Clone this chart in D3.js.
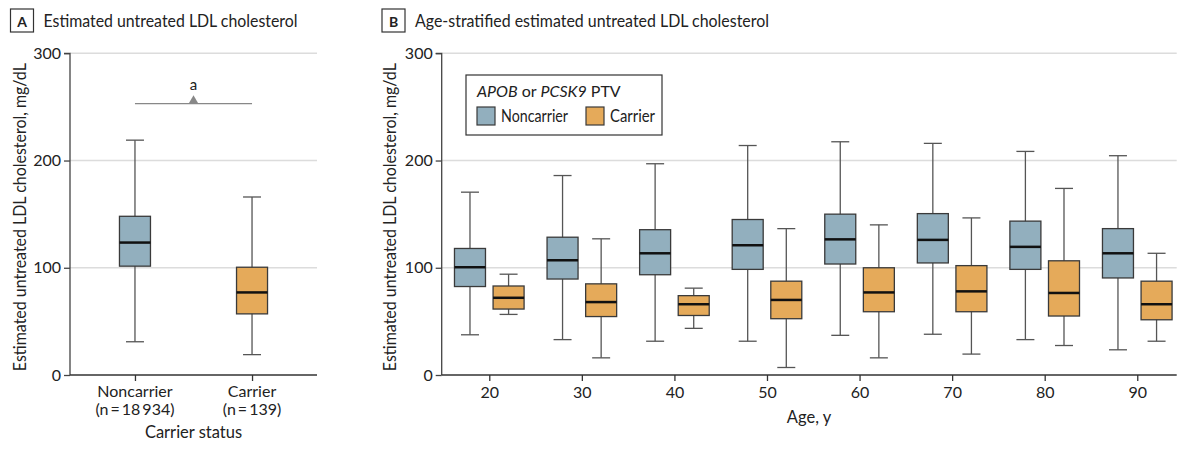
<!DOCTYPE html>
<html>
<head>
<meta charset="utf-8">
<script src="https://cdn.jsdelivr.net/npm/d3@7"></script>
<style>
  body { margin: 0; background: #fff; }
  text { font-family: Lato, "Open Sans", sans-serif; fill: #222; }
</style>
</head>
<body>
<script>
// ---- data ----
const groups = ["Noncarrier", "Carrier"];
const groupLabels = ["(n\u2009=\u200918\u2009934)", "(n\u2009=\u2009139)"];
// [low whisker, q1, median, q3, high whisker]
const overallNoncarrier = [31, 101.5, 123.5, 148, 219];
const overallCarrier = [19, 57, 77, 100.5, 166];

const ages = [20, 30, 40, 50, 60, 70, 80, 90];
const noncarrierByAge = [
  [37.5, 82.5, 100.5, 118, 170.5],
  [33, 89.5, 107, 128.5, 186],
  [31.5, 93.5, 113.5, 135.5, 197],
  [31.5, 98.5, 121, 145, 214],
  [37, 103.5, 126.5, 150, 217.5],
  [38, 104.5, 126, 150.5, 216],
  [33, 98.5, 119.5, 143.5, 208.5],
  [23.5, 90.5, 113.5, 136.5, 204.5]
];
const carrierByAge = [
  [56.5, 61.5, 72, 83, 94],
  [16, 54.5, 68, 85, 127],
  [43.5, 55.5, 66, 74, 81],
  [7, 52.5, 70, 87.5, 136.5],
  [16, 59, 77, 100, 140],
  [19.5, 59, 78, 102, 146.5],
  [27.5, 55, 76.5, 106.5, 174],
  [31.5, 51.5, 66, 87.5, 113.5]
];
const yTicks = [0, 100, 200, 300];
const colors = { Noncarrier: "#92afbe", Carrier: "#e5aa5a" };

const svg = d3.select("body").append("svg")
  .attr("width", 1200)
  .attr("height", 450);

const y = d3.scaleLinear().domain([0, 300]).range([375, 53.3]);
const boxW = 31;

function drawBox(g, cx, v, fill) {
  g.append("line")
    .attr("x1", cx).attr("x2", cx)
    .attr("y1", y(v[0])).attr("y2", y(v[4]))
    .attr("stroke", "#555").attr("stroke-width", 1.3);
  [v[0], v[4]].forEach(w => {
    g.append("line")
      .attr("x1", cx - 9).attr("x2", cx + 9)
      .attr("y1", y(w)).attr("y2", y(w))
      .attr("stroke", "#555").attr("stroke-width", 1.3);
  });
  g.append("rect")
    .attr("x", cx - boxW / 2).attr("width", boxW)
    .attr("y", y(v[3])).attr("height", y(v[1]) - y(v[3]))
    .attr("fill", fill).attr("stroke", "#3a3a3a").attr("stroke-width", 1.3);
  g.append("line")
    .attr("x1", cx - boxW / 2).attr("x2", cx + boxW / 2)
    .attr("y1", y(v[2])).attr("y2", y(v[2]))
    .attr("stroke", "#111").attr("stroke-width", 2.5);
}

function drawFrame(left, right, titleLetter, titleText, titleLen, yTitleX) {
  // grid
  svg.append("g").selectAll("line")
    .data(yTicks.filter(d => d > 0))
    .join("line")
    .attr("x1", left).attr("x2", right)
    .attr("y1", d => y(d)).attr("y2", d => y(d))
    .attr("stroke", "#dcdcdc").attr("stroke-width", 1.5);

  const ya = svg.append("g")
    .attr("transform", `translate(${left},0)`)
    .call(d3.axisLeft(y).tickValues(yTicks).tickSize(6).tickPadding(3));
  ya.select(".domain").attr("stroke", "#444").attr("stroke-width", 1.3).attr("d", `M-6,${y(300)}H0V${y(0)}`);
  ya.selectAll(".tick line").attr("stroke", "#444").attr("stroke-width", 1.3);
  ya.selectAll(".tick text").style("font-size", "16px").attr("fill", "#333")
    .style("font-family", "Lato, sans-serif");

  svg.append("text")
    .attr("transform", `translate(${yTitleX},${(y(0) + y(300)) / 2 + 3}) rotate(-90)`)
    .attr("text-anchor", "middle")
    .style("font-size", "16.5px")
    .attr("textLength", 308).attr("lengthAdjust", "spacingAndGlyphs")
    .text("Estimated untreated LDL cholesterol, mg/dL");

  // panel title
  const t = svg.append("g");
  t.append("rect")
    .attr("x", titleLetter.x).attr("y", 9)
    .attr("width", 23).attr("height", 23)
    .attr("fill", "none").attr("stroke", "#333").attr("stroke-width", 1.2);
  t.append("text")
    .attr("x", titleLetter.x + 11.5).attr("y", 26.5)
    .attr("text-anchor", "middle")
    .style("font-size", "14px").style("font-weight", "bold")
    .text(titleLetter.t);
  t.append("text")
    .attr("x", titleLetter.x + 33).attr("y", 27)
    .style("font-size", "17.5px")
    .attr("textLength", titleLen).attr("lengthAdjust", "spacingAndGlyphs")
    .text(titleText);
}

// ---- Panel A ----
const xA = d3.scalePoint().domain(groups).range([70, 317]).padding(0.555);
drawFrame(70, 317, { x: 10.5, t: "A" }, "Estimated untreated LDL cholesterol", 254, 26);

const xaA = svg.append("g")
  .attr("transform", `translate(0,${y(0)})`)
  .call(d3.axisBottom(xA).tickSize(6).tickFormat(""));
xaA.select(".domain").attr("stroke", "#333").attr("stroke-width", 1.3).attr("d", `M70,0H317`);
xaA.selectAll(".tick line").attr("stroke", "#333").attr("stroke-width", 1.3);

groups.forEach((g, i) => {
  svg.append("text")
    .attr("x", xA(g)).attr("y", 397)
    .attr("text-anchor", "middle").style("font-size", "16px").attr("fill", "#333")
    .text(g);
  svg.append("text")
    .attr("x", xA(g)).attr("y", 415)
    .attr("text-anchor", "middle").style("font-size", "16px").attr("fill", "#333")
    .text(groupLabels[i]);
});
svg.append("text")
  .attr("x", (xA("Noncarrier") + xA("Carrier")) / 2).attr("y", 438)
  .attr("text-anchor", "middle").style("font-size", "16.5px")
  .text("Carrier status");

const gA = svg.append("g");
drawBox(gA, xA("Noncarrier"), overallNoncarrier, colors.Noncarrier);
drawBox(gA, xA("Carrier"), overallCarrier, colors.Carrier);

// significance bracket
const sigY = y(253);
const midA = (xA("Noncarrier") + xA("Carrier")) / 2;
svg.append("line")
  .attr("x1", xA("Noncarrier")).attr("x2", xA("Carrier"))
  .attr("y1", sigY).attr("y2", sigY)
  .attr("stroke", "#888").attr("stroke-width", 1.3);
svg.append("path")
  .attr("d", d3.symbol().type(d3.symbolTriangle).size(40)())
  .attr("transform", `translate(${midA},${sigY - 3})`)
  .attr("fill", "#888");
svg.append("text")
  .attr("x", midA).attr("y", sigY - 14)
  .attr("text-anchor", "middle").style("font-size", "15px").attr("fill", "#555")
  .text("a");

// ---- Panel B ----
const xB = d3.scaleLinear().domain([14.86, 94.26]).range([441.7, 1176.7]);
const inner = d3.scalePoint().domain(groups).range([-19.3, 19.3]);
drawFrame(441.7, 1176.7, { x: 382, t: "B" }, "Age-stratified estimated untreated LDL cholesterol", 354, 396);

const xaB = svg.append("g")
  .attr("transform", `translate(0,${y(0)})`)
  .call(d3.axisBottom(xB).tickValues(ages).tickSize(6).tickPadding(6));
xaB.select(".domain").attr("stroke", "#333").attr("stroke-width", 1.3).attr("d", `M441.7,0H1176.7`);
xaB.selectAll(".tick line").attr("stroke", "#333").attr("stroke-width", 1.3);
xaB.selectAll(".tick text").style("font-size", "16px").attr("fill", "#333")
  .style("font-family", "Lato, sans-serif");

svg.append("text")
  .attr("x", 809).attr("y", 423)
  .attr("text-anchor", "middle").style("font-size", "16.5px")
  .text("Age, y");

const gB = svg.append("g");
ages.forEach((a, i) => {
  drawBox(gB, xB(a) + inner("Noncarrier"), noncarrierByAge[i], colors.Noncarrier);
  drawBox(gB, xB(a) + inner("Carrier"), carrierByAge[i], colors.Carrier);
});

// legend
const lg = svg.append("g").attr("transform", "translate(466,75)");
lg.append("rect")
  .attr("width", 196).attr("height", 60)
  .attr("fill", "#fff").attr("stroke", "#333").attr("stroke-width", 1.2);
const lt = lg.append("text").attr("x", 11).attr("y", 22).style("font-size", "16px");
lt.append("tspan").style("font-style", "italic").text("APOB");
lt.append("tspan").text(" or ");
lt.append("tspan").style("font-style", "italic").text("PCSK9");
lt.append("tspan").text(" PTV");
const legendX = [11, 120];
const legendLen = [67, 45];
groups.forEach((g, i) => {
  lg.append("rect")
    .attr("x", legendX[i]).attr("y", 32)
    .attr("width", 18).attr("height", 18)
    .attr("fill", colors[g]).attr("stroke", "#3a3a3a").attr("stroke-width", 1.2);
  lg.append("text")
    .attr("x", legendX[i] + 24).attr("y", 47)
    .style("font-size", "16.5px")
    .attr("textLength", legendLen[i]).attr("lengthAdjust", "spacingAndGlyphs")
    .text(g);
});
</script>
</body>
</html>
